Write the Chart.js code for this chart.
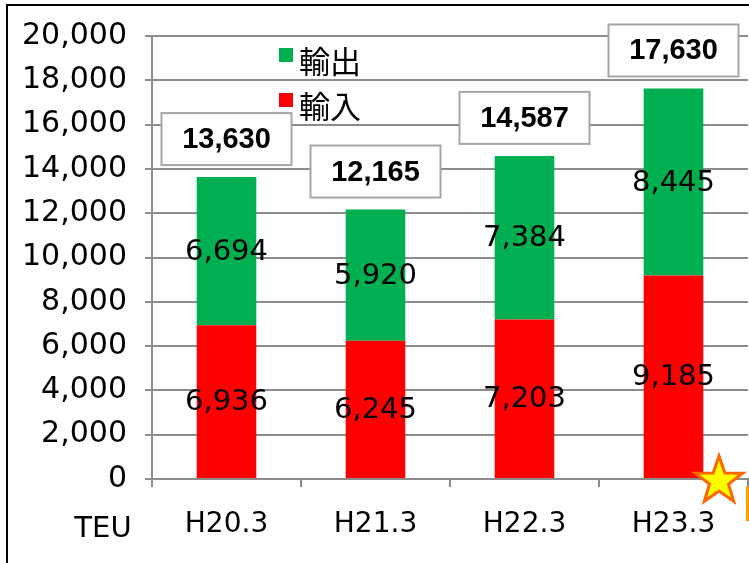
<!DOCTYPE html>
<html>
<head>
<meta charset="utf-8">
<script src="https://cdn.jsdelivr.net/npm/chart.js@4/dist/chart.umd.min.js"></script>
<style>
  body { margin: 0; background: #fff; }
  #wrap { position: relative; width: 749px; height: 563px; }
  #frame { position: absolute; left: 6px; top: 4px; width: 760px; height: 580px;
           border-left: 2px solid #000; border-top: 2px solid #000; }
  canvas { position: absolute; left: 0; top: 0; }
</style>
</head>
<body>
<div id="wrap">
  <div id="frame"></div>
  <canvas id="chart" width="749" height="563"></canvas>
</div>
<script>
const years = ['H20.3', 'H21.3', 'H22.3', 'H23.3']
const importTeu = [6936, 6245, 7203, 9185]
const exportTeu = [6694, 5920, 7384, 8445]
const totalTeu = [13630, 12165, 14587, 17630]
const seriesNames = ['輸入', '輸出']
const seriesColors = ['#ff0000', '#00b050']
const unitLabel = 'TEU'

const numFont = '"DejaVu Sans", sans-serif'
const fmt = v => v.toLocaleString('en-US')

const labelsPlugin = {
    id: 'labels',
    afterDatasetsDraw(chart) {
        const ctx = chart.ctx
        const bottom = chart.getDatasetMeta(0)
        const top = chart.getDatasetMeta(1)
        ctx.save()
        ctx.textAlign = 'center'
        ctx.textBaseline = 'middle'

        years.forEach((y, i) => {
            const b = bottom.data[i]
            const t = top.data[i]
            ctx.fillStyle = '#000'
            ctx.font = '29px ' + numFont
            ctx.fillText(fmt(importTeu[i]), b.x, (b.y + b.base) / 2 + 1)
            ctx.fillText(fmt(exportTeu[i]), t.x, (t.y + t.base) / 2 + 1)

            // total box
            const bw = 130, bh = 52
            const bx = t.x - bw / 2
            const by = t.y - 12 - bh
            ctx.fillStyle = '#fff'
            ctx.fillRect(bx, by, bw, bh)
            ctx.strokeStyle = '#a6a6a6'
            ctx.lineWidth = 2
            ctx.strokeRect(bx, by, bw, bh)
            ctx.fillStyle = '#000'
            ctx.font = 'bold 29px "Liberation Sans", Arial, sans-serif'
            ctx.fillText(fmt(totalTeu[i]), t.x, by + bh / 2 + 1)
        })

        // legend
        ctx.textAlign = 'left'
        ctx.font = '31px "Noto Sans CJK JP", sans-serif'
        const legend = [[seriesNames[1], seriesColors[1], 55], [seriesNames[0], seriesColors[0], 100]]
        legend.forEach(([name, color, cy]) => {
            ctx.fillStyle = color
            ctx.fillRect(279, cy - 7, 14, 14)
            ctx.fillStyle = '#000'
            ctx.fillText(name, 299, cy + 6)
        })

        // unit label
        ctx.textAlign = 'center'
        ctx.font = '29px ' + numFont
        ctx.fillText(unitLabel, 103, 529)

        // star decoration
        const cx = 719, cy = 481, ro = 25, ri = 10
        ctx.beginPath()
        for (let k = 0; k < 10; k++) {
            const r = k % 2 ? ri : ro
            const a = -Math.PI / 2 + k * Math.PI / 5
            ctx.lineTo(cx + r * Math.cos(a), cy + r * Math.sin(a))
        }
        ctx.closePath()
        ctx.fillStyle = '#ffff00'
        ctx.fill()
        ctx.strokeStyle = '#ff6600'
        ctx.lineWidth = 3
        ctx.stroke()
        ctx.fillStyle = '#f5a000'
        ctx.fillRect(746, 486, 3, 35)
        ctx.restore()
    }
}

new Chart(document.getElementById('chart'), {
    type: 'bar',
    data: {
        labels: years,
        datasets: [
            { label: seriesNames[0], data: importTeu, backgroundColor: seriesColors[0] },
            { label: seriesNames[1], data: exportTeu, backgroundColor: seriesColors[1] }
        ]
    },
    options: {
        responsive: false,
        animation: false,
        layout: { padding: { top: 34, right: 1, left: 0, bottom: 0 } },
        datasets: { bar: { barPercentage: 0.4, categoryPercentage: 1 } },
        plugins: { legend: { display: false }, tooltip: { enabled: false } },
        scales: {
            x: {
                stacked: true,
                offset: true,
                grid: { offset: true, drawOnChartArea: false, drawTicks: true, tickLength: 8, color: '#8c8c8c', lineWidth: 2 },
                border: { color: '#8c8c8c', width: 2 },
                ticks: { color: '#000', font: { family: numFont, size: 28 }, padding: 21 },
                afterFit: s => { s.height = 84 }
            },
            y: {
                stacked: true,
                min: 0,
                max: 20000,
                grid: { color: '#8c8c8c', lineWidth: 2, tickLength: 7 },
                border: { color: '#8c8c8c', width: 2 },
                ticks: { stepSize: 2000, color: '#000', font: { family: numFont, size: 30 }, padding: 18,
                         callback: v => fmt(v) },
                afterFit: s => { s.width = 152 }
            }
        }
    },
    plugins: [labelsPlugin]
})
</script>
</body>
</html>
